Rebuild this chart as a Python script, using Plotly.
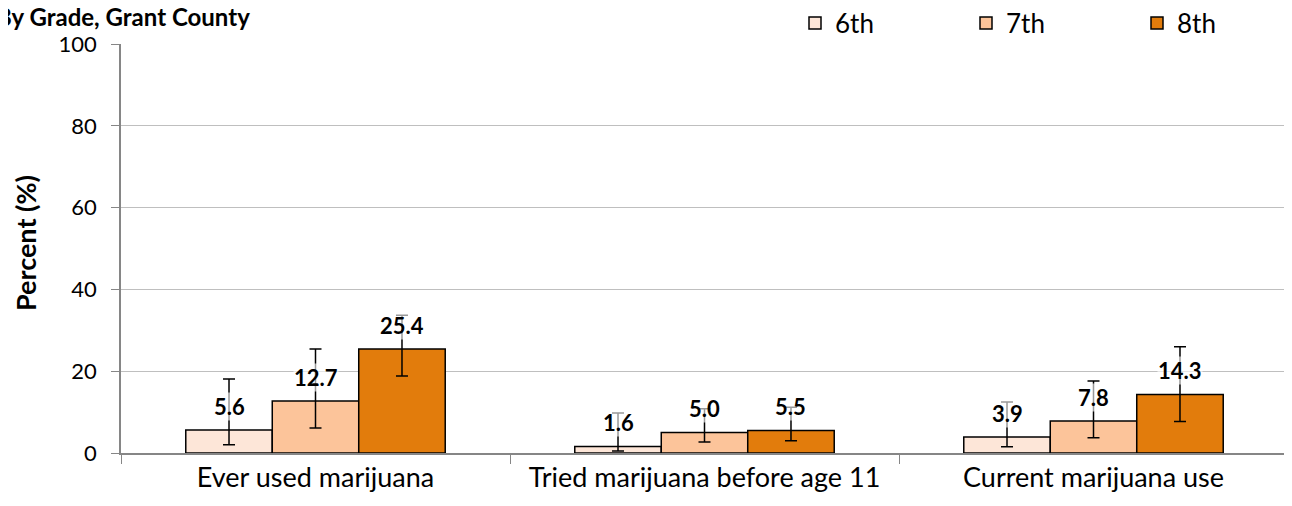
import plotly.graph_objects as go

categories = ["Ever used marijuana", "Tried marijuana before age 11", "Current marijuana use"]
grades = ["6th", "7th", "8th"]
values = {
    "6th": [5.6, 1.6, 3.9],
    "7th": [12.7, 5.0, 7.8],
    "8th": [25.4, 5.5, 14.3],
}
ci_upper = {
    "6th": [18.1, 9.8, 12.5],
    "7th": [25.4, 10.8, 17.6],
    "8th": [33.7, 11.2, 26.0],
}
ci_lower = {
    "6th": [2.0, 0.5, 1.5],
    "7th": [6.1, 2.7, 3.7],
    "8th": [18.8, 3.0, 7.7],
}
colors = {"6th": "#FDE6D8", "7th": "#FCC49A", "8th": "#E27C0C"}
y_ticks = [0, 20, 40, 60, 80, 100]

FONT = "Lato"
OFF = 8  # page body margin
W, H = 1292 - OFF, 506 - OFF
ml, mr, mt, mb = 121 - OFF, 4, 44 - OFF, 506 - 453
plot_w = W - ml - mr
plot_h = H - mt - mb


def px_x(px):
    # screen px -> paper x
    return (px - OFF - ml) / plot_w


def px_y(py):
    # screen px -> paper y
    return (H - (py - OFF) - mb) / plot_h


fig = go.Figure()
for g in grades:
    v = values[g]
    fig.add_trace(go.Bar(
        name=g, x=categories, y=v,
        marker=dict(color=colors[g], line=dict(color="black", width=1.5)),
        error_y=dict(type="data", symmetric=False,
                     array=[u - a for u, a in zip(ci_upper[g], v)],
                     arrayminus=[a - l for a, l in zip(v, ci_lower[g])],
                     color="black", thickness=1.5, width=6),
    ))

cat_w = plot_w / len(categories)
bar_w = cat_w * (1 - 0.333) / len(grades)
annos = []
for gi, g in enumerate(grades):
    for ci, c in enumerate(categories):
        annos.append(dict(
            x=c, y=values[g][ci], xref="x", yref="y",
            text=f"<b>{values[g][ci]:.1f}</b>", showarrow=False,
            xshift=(gi - 1) * bar_w, yanchor="middle", yshift=24,
            font=dict(family=FONT, size=22, color="black"),
            bgcolor="rgba(255,255,255,0.6)", borderpad=0,
        ))

annos.append(dict(
    x=px_x(252), xref="paper", y=px_y(17), yref="paper",
    xanchor="right", yanchor="middle", showarrow=False,
    text="<b>By Grade, Grant County</b>",
    font=dict(family=FONT, size=24, color="black"),
))
annos.append(dict(
    x=px_x(25), xref="paper", y=px_y(243), yref="paper",
    xanchor="center", yanchor="middle", showarrow=False, textangle=-90,
    text="<b>Percent (%)</b>",
    font=dict(family=FONT, size=27, color="black"),
))

fig.update_layout(
    width=W, height=H,
    margin=dict(l=ml, r=mr, t=mt, b=mb, autoexpand=False),
    plot_bgcolor="white", paper_bgcolor="white",
    barmode="group", bargap=0.333, bargroupgap=0,
    font=dict(family=FONT, color="black"),
    showlegend=True,
    legend=dict(orientation="h", x=(795 - OFF) / W, xanchor="left", xref="container",
                y=1 - (23 - OFF) / H, yanchor="middle", yref="container",
                font=dict(family=FONT, size=26), entrywidth=126,
                itemwidth=30, traceorder="normal", bgcolor="rgba(0,0,0,0)"),
    annotations=annos,
    yaxis=dict(range=[0, 100], tickvals=y_ticks, showgrid=True,
               gridcolor="#BFBFBF", gridwidth=1, showline=True,
               linecolor="#868686", linewidth=1.5, ticks="outside",
               ticklen=8, tickcolor="#868686", ticklabelstandoff=10,
               tickfont=dict(family=FONT, size=22),
               zeroline=False, automargin=False),
    xaxis=dict(showline=True, linecolor="#868686", linewidth=1.5,
               ticks="outside", tickson="boundaries", ticklen=9,
               tickcolor="#868686", tickfont=dict(family=FONT, size=27),
               automargin=False),
)

fig.write_html("out.html")
